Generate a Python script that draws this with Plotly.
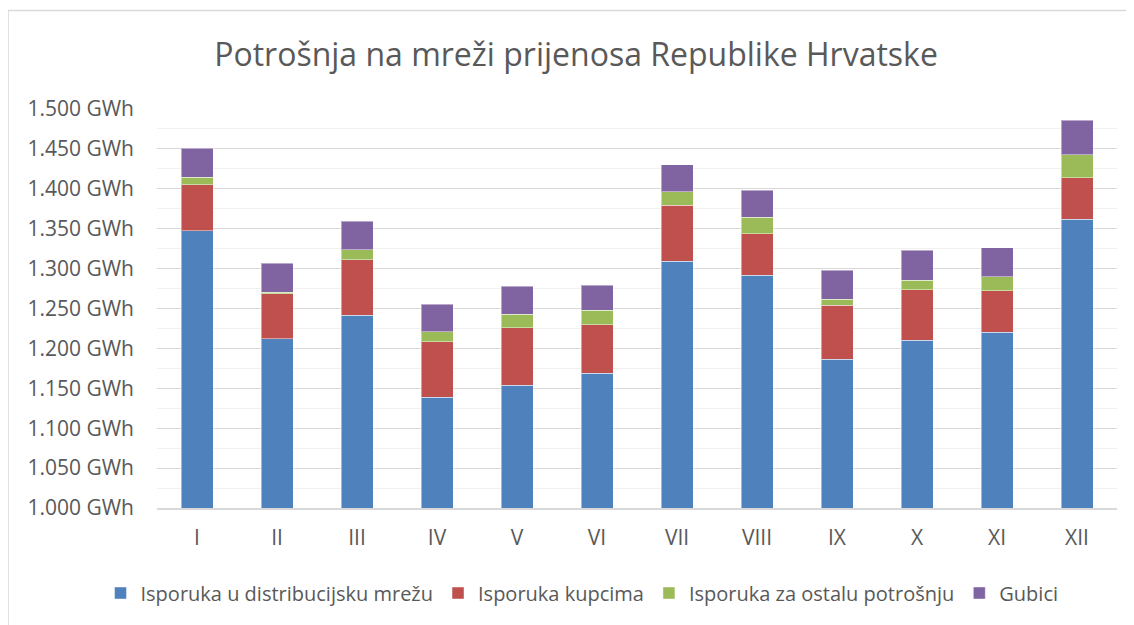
import plotly.graph_objects as go

months = ["I", "II", "III", "IV", "V", "VI", "VII", "VIII", "IX", "X", "XI", "XII"]
distribucija = [1347.5, 1212, 1241.5, 1139, 1154, 1169, 1309, 1291.6, 1186.3, 1210, 1220.2, 1361.8]
kupci = [57.5, 56.6, 69.5, 69.4, 72, 60.7, 70.7, 52.1, 67.7, 63.6, 52.1, 52.2]
ostalo = [9.4, 1.7, 12.5, 12.6, 17.1, 18.4, 16.3, 20.6, 7.9, 12.1, 17.2, 28.4]
gubici = [36.6, 36.7, 35.6, 34.6, 34.7, 30.9, 34.2, 33.8, 36.0, 37.2, 36.7, 43.4]

series = [
    ("Isporuka u distribucijsku mrežu", distribucija, "#4F81BD"),
    ("Isporuka kupcima", kupci, "#C0504D"),
    ("Isporuka za ostalu potrošnju", ostalo, "#9BBB59"),
    ("Gubici", gubici, "#8064A2"),
]

fig = go.Figure()
for name, vals, col in series:
    fig.add_trace(go.Bar(
        x=months, y=vals, name=name,
        marker=dict(color=col, line=dict(color="rgba(255,255,255,0.45)", width=1)),
    ))

# page has an 8px body margin; figure coordinates = page coordinates - 8
OFF = 8
W, H = 1126, 617
L, T = 157 - OFF, 109 - OFF
pw, ph = 960, 399
R, B = W - L - pw, H - T - ph

def px(xp):
    return (xp - OFF - L) / pw

def py(yp):
    return (T + ph - (yp - OFF)) / ph

fig.update_layout(
    width=W, height=H,
    barmode="stack", bargap=0.6,
    separators=",.",
    paper_bgcolor="white", plot_bgcolor="white",
    margin=dict(l=L, r=R, t=T, b=B),
    font=dict(family="Open Sans", color="#595959", size=20),
    title=dict(text="Potrošnja na mreži prijenosa Republike Hrvatske",
               x=(576 - OFF) / W, xanchor="center", y=1 - (55 - OFF) / H, yanchor="middle",
               font=dict(family="Open Sans", size=32, color="#595959")),
    showlegend=True,
    legend=dict(orientation="h", x=px(582), xanchor="center",
                y=py(593), yanchor="middle",
                font=dict(family="Open Sans", size=20, color="#595959"),
                traceorder="normal", itemwidth=30, bgcolor="rgba(0,0,0,0)"),
    shapes=[dict(type="rect", xref="paper", yref="paper",
                 x0=px(8), x1=px(1150),
                 y0=py(660), y1=py(10.5),
                 line=dict(color="#d9d9d9", width=1.5), layer="below")],
)

fig.update_yaxes(range=[1000, 1500], dtick=50, tickformat=",.0f", ticksuffix=" GWh",
                 showgrid=True, gridcolor="#d9d9d9", gridwidth=1,
                 minor=dict(dtick=25, showgrid=True, gridcolor="#f0f0f0", gridwidth=1),
                 zeroline=False, showline=False, ticks="", ticklabelstandoff=22,
                 tickfont=dict(size=21, color="#595959"))
fig.update_xaxes(showline=True, linecolor="#d9d9d9", linewidth=1.5, ticks="",
                 ticklabelstandoff=10, tickfont=dict(size=21, color="#595959"))

fig.write_html("out.html")
